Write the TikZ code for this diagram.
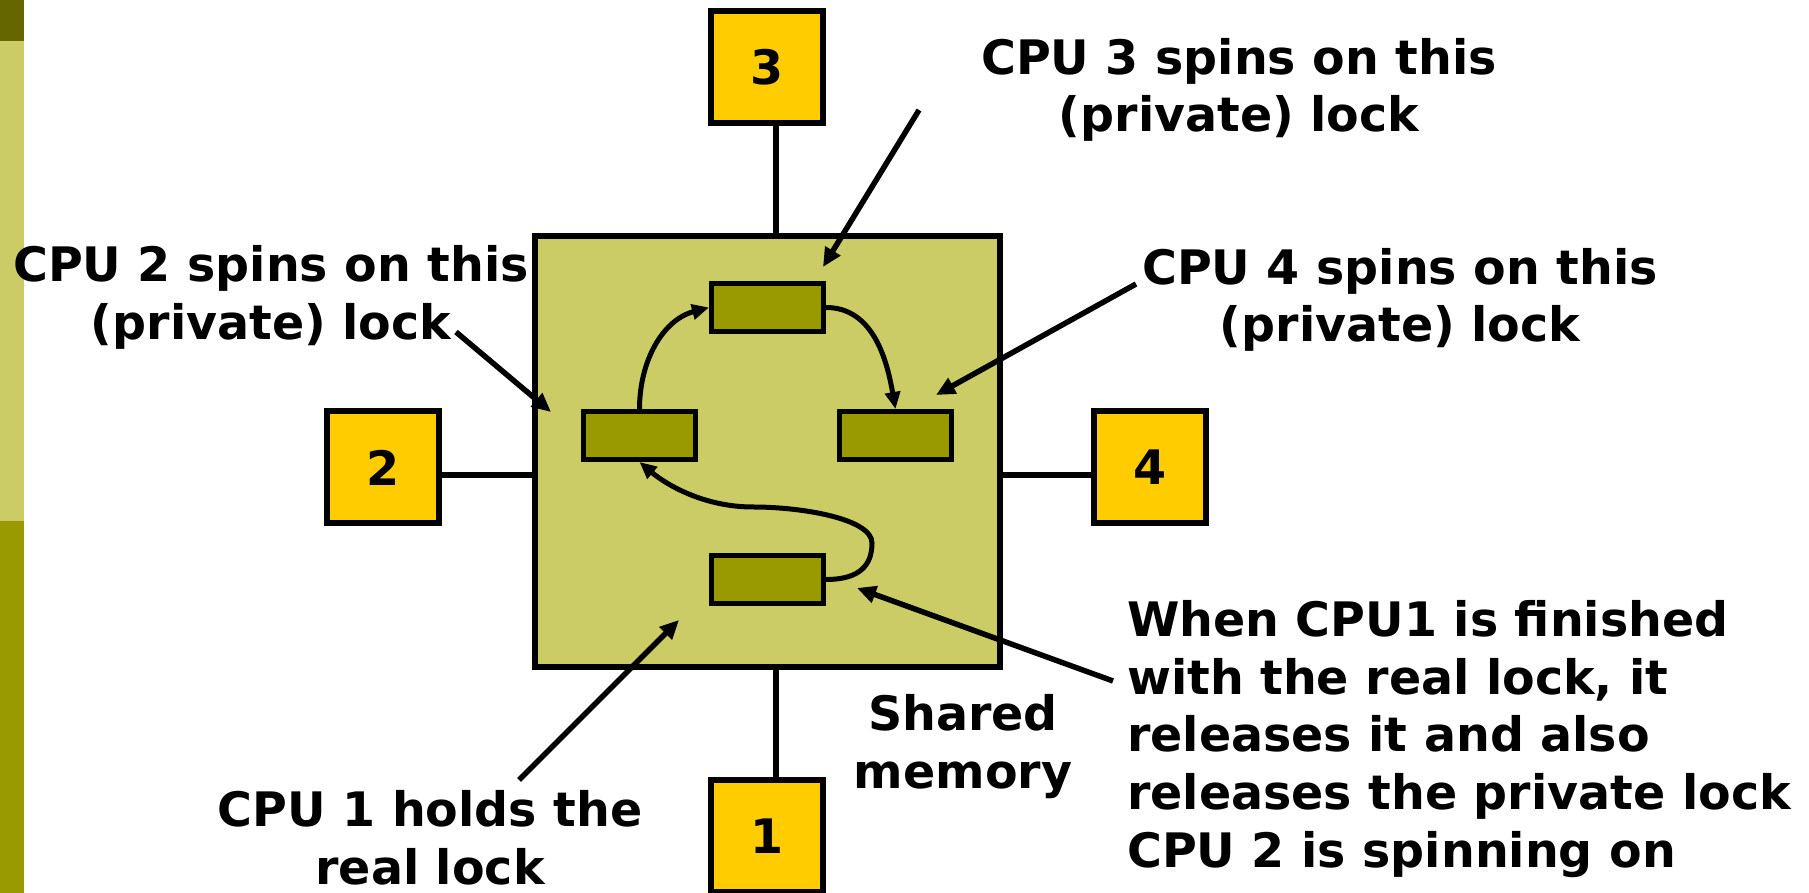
\documentclass[tikz,border=0pt]{standalone}
\usepackage{fontspec}
\setmainfont{DejaVu Sans}
\usetikzlibrary{arrows.meta}
\definecolor{stripdark}{HTML}{666600}
\definecolor{striplight}{HTML}{CCCC66}
\definecolor{olive}{HTML}{999900}
\definecolor{memfill}{HTML}{CCCC66}
\definecolor{cpuyellow}{HTML}{FFCC00}
\tikzset{
  bigfont/.style={font=\fontsize{47.5}{57.8}\selectfont\bfseries},
  cpubox/.style={draw=black, line width=6pt, fill=cpuyellow, minimum width=112pt, minimum height=112pt, inner sep=0pt, bigfont},
  memory/.style={draw=black, line width=5.5pt, fill=memfill, minimum width=465pt, minimum height=431pt, inner sep=0pt},
  lockbox/.style={draw=black, line width=5pt, fill=olive, minimum width=112pt, minimum height=48pt, inner sep=0pt},
  label/.style={bigfont, align=center, inner sep=0pt},
  wire/.style={line width=6pt},
  flow/.style={line width=5pt, -{Triangle[length=17pt,width=15pt]}},
  pointer/.style={line width=5.5pt, -{Triangle[length=19pt,width=17pt]}}
}
\begin{document}
\begin{tikzpicture}[x=1pt,y=1pt]
\useasboundingbox (0,0) rectangle (1809,893);
% left strip
\fill[stripdark] (0,851.5) rectangle (24,893);
\fill[striplight] (0,372) rectangle (24,851.5);
\fill[olive] (0,0) rectangle (24,372);

% shared memory
\node[memory] (mem) at (767.5,441.5) {};
% CPU boxes
\node[cpubox] (b3) at (767,826) {\raisebox{-2pt}{3}};
\node[cpubox] (b2) at (383,425.5) {\raisebox{-2pt}{2}};
\node[cpubox] (b4) at (1150,425.5) {\raisebox{-2pt}{4}};
\node[cpubox] (b1) at (767,57) {\raisebox{-2pt}{1}};

% wires
\coordinate (hl) at (0,418);
\draw[wire] ([xshift=9pt]b3.south) -- ([xshift=8.5pt]mem.north);
\draw[wire] ([xshift=8.5pt]mem.south) -- ([xshift=9pt]b1.north);
\draw[wire] (b2.east |- hl) -- (mem.west |- hl);
\draw[wire] (mem.east |- hl) -- (b4.west |- hl);

% locks
\node[lockbox] (T) at (767.5,585.5) {};
\node[lockbox] (L) at (639.5,457.5) {};
\node[lockbox] (R) at (895.5,457.5) {};
\node[lockbox] (B) at (767.5,313.5) {};

% lock hand-off arrows
\draw[flow] (L.north) to[out=90,in=195] (T.west);
\draw[flow] (T.east) to[out=0,in=100] (R.north);
\draw[flow] (B.east) .. controls +(34,0) and +(0,-22) .. (872,350)
   .. controls +(0,24) and +(50,0) .. (753,386)
   .. controls +(-50,0) and +(26,-22) .. (L.south);

% labels
\node[label] (t3) at (1239,803) {CPU 3 spins on this\\(private) lock};
\node[label] (t2) at (271,595.5) {CPU 2 spins on this\\(private) lock};
\node[label] (t4) at (1400,593) {CPU 4 spins on this\\(private) lock};
\node[label] (tm) at (963,146.5) {Shared\\memory};
\node[label] (t1) at (430,55) {CPU 1 holds the\\real lock};
\node[label, align=left, anchor=west] (tw) at (1127,154) {When CPU1 is finished\\with the real lock, it\\releases it and also\\releases the private lock\\CPU 2 is spinning on};

% pointer arrows
\coordinate (p3s) at (919,783); \coordinate (p3e) at (823,626);
\coordinate (p2s) at (456,561); \coordinate (p2e) at (551,481);
\coordinate (p4s) at (1136,609); \coordinate (p4e) at (936,498);
\coordinate (p1s) at (519,113); \coordinate (p1e) at (679,273);
\coordinate (pws) at (1113,212); \coordinate (pwe) at (857,305);
\draw[pointer] (p3s) -- (p3e);
\draw[pointer] (p2s) -- (p2e);
\draw[pointer] (p4s) -- (p4e);
\draw[pointer] (p1s) -- (p1e);
\draw[pointer] (pws) -- (pwe);
\end{tikzpicture}
\end{document}
